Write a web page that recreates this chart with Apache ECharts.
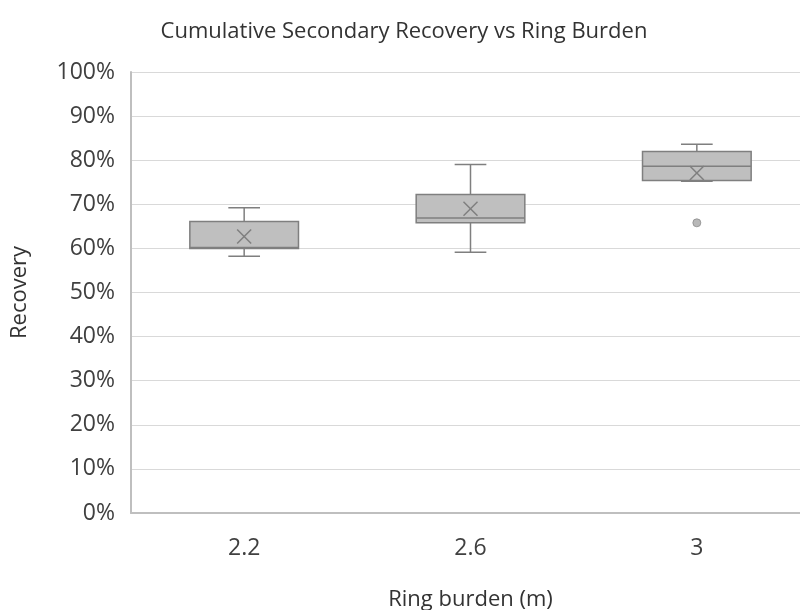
<!DOCTYPE html>
<html>
<head>
<meta charset="utf-8">
<script src="https://cdn.jsdelivr.net/npm/echarts@6/dist/echarts.min.js"></script>
<style>html,body{margin:0;padding:0;background:#fff}#c{width:800px;height:610px}</style>
</head>
<body>
<div id="c"></div>
<script>
var categories = ['2.2', '2.6', '3'];
var whiskerLow = [58.2, 59.1, 75.2];
var q1 = [60.0, 65.8, 75.4];
var median = [60.2, 66.9, 78.6];
var q3 = [66.1, 72.2, 82.0];
var whiskerHigh = [69.2, 79.0, 83.6];
var mean = [62.7, 69.0, 77.1];
var outliers = [[2, 65.8]];
var yTicks = [0, 10, 20, 30, 40, 50, 60, 70, 80, 90, 100];

var boxData = categories.map(function (c, i) {
  return [i, whiskerLow[i], q1[i], median[i], q3[i], whiskerHigh[i], mean[i]];
});

var stroke = '#7f7f7f';
var fill = '#bfbfbf';

function renderBox(params, api) {
  var i = api.value(0);
  var band = api.size([1, 0])[0];
  var bw = band * 0.48;
  var cw = band * 0.14;
  var pLow = api.coord([i, api.value(1)]);
  var pQ1 = api.coord([i, api.value(2)]);
  var pMed = api.coord([i, api.value(3)]);
  var pQ3 = api.coord([i, api.value(4)]);
  var pHigh = api.coord([i, api.value(5)]);
  var pMean = api.coord([i, api.value(6)]);
  var x = pQ1[0];
  var ls = { stroke: stroke, lineWidth: 1.5 };
  var m = 7;
  return {
    type: 'group',
    children: [
      { type: 'line', shape: { x1: x, y1: pHigh[1], x2: x, y2: pQ3[1] }, style: ls },
      { type: 'line', shape: { x1: x, y1: pLow[1], x2: x, y2: pQ1[1] }, style: ls },
      { type: 'line', shape: { x1: x - cw / 2, y1: pHigh[1], x2: x + cw / 2, y2: pHigh[1] }, style: ls },
      { type: 'line', shape: { x1: x - cw / 2, y1: pLow[1], x2: x + cw / 2, y2: pLow[1] }, style: ls },
      { type: 'rect', shape: { x: x - bw / 2, y: pQ3[1], width: bw, height: pQ1[1] - pQ3[1] },
        style: { fill: fill, stroke: stroke, lineWidth: 1.5 } },
      { type: 'line', shape: { x1: x - bw / 2, y1: pMed[1], x2: x + bw / 2, y2: pMed[1] }, style: ls },
      { type: 'line', shape: { x1: x - m, y1: pMean[1] - m, x2: x + m, y2: pMean[1] + m }, style: ls },
      { type: 'line', shape: { x1: x - m, y1: pMean[1] + m, x2: x + m, y2: pMean[1] - m }, style: ls }
    ]
  };
}

var chart = echarts.init(document.getElementById('c'), null, { renderer: 'canvas' });
chart.setOption({
  animation: false,
  textStyle: { fontFamily: 'Open Sans' },
  title: {
    text: 'Cumulative Secondary Recovery vs Ring Burden',
    left: 399, top: 16, textAlign: 'center',
    textStyle: { fontFamily: 'Open Sans', fontSize: 22, fontWeight: 'normal', color: '#333333' }
  },
  grid: { left: 131, top: 72, right: -10, bottom: 97, containLabel: false, outerBoundsMode: 'none' },
  xAxis: {
    type: 'category',
    data: categories,
    name: 'Ring burden (m)',
    nameLocation: 'middle',
    nameGap: 76,
    nameTextStyle: { fontFamily: 'Open Sans', fontSize: 22, color: '#333333' },
    axisLine: { lineStyle: { color: '#bfbfbf', width: 2 } },
    axisTick: { show: false },
    axisLabel: { margin: 24, fontFamily: 'Open Sans', fontSize: 23, color: '#404040' },
    splitLine: { show: false }
  },
  yAxis: {
    type: 'value',
    min: 0, max: 100, interval: 10,
    name: 'Recovery',
    nameLocation: 'middle',
    nameGap: 100,
    nameTextStyle: { fontFamily: 'Open Sans', fontSize: 22, color: '#333333' },
    axisLine: { show: true, lineStyle: { color: '#bfbfbf', width: 2 } },
    axisTick: { show: false },
    axisLabel: { margin: 16, fontFamily: 'Open Sans', fontSize: 23, color: '#404040',
      formatter: function (v) { return yTicks.indexOf(v) >= 0 ? v + '%' : ''; } },
    splitLine: { lineStyle: { color: '#d9d9d9', width: 1 } }
  },
  series: [
    {
      type: 'custom',
      renderItem: renderBox,
      encode: { x: 0, y: [1, 2, 3, 4, 5, 6] },
      data: boxData,
      z: 3
    },
    {
      type: 'scatter',
      data: outliers,
      symbol: 'circle',
      symbolSize: 8,
      itemStyle: { color: '#a6a6a6', borderColor: '#8c8c8c', borderWidth: 1 },
      z: 4
    }
  ]
});
</script>
</body>
</html>
